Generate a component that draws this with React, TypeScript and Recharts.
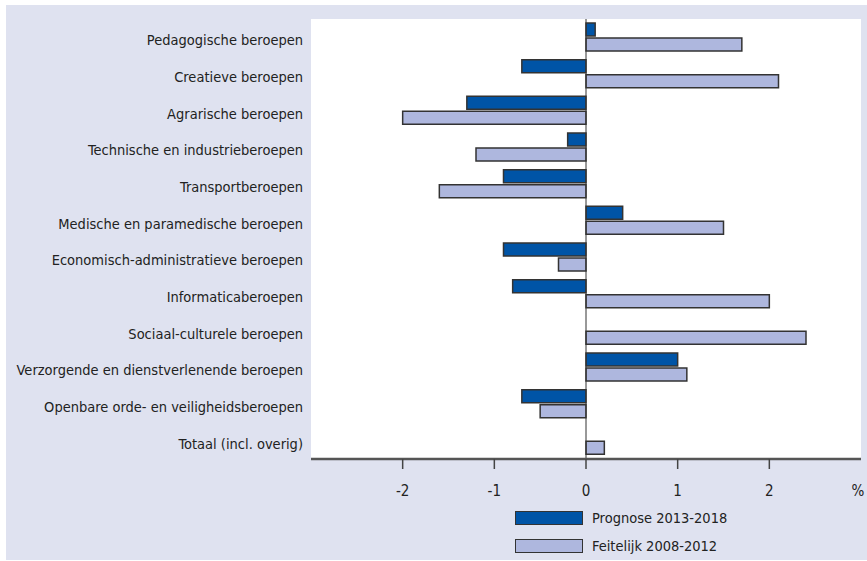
import React from "react";
import {
  BarChart,
  Bar,
  XAxis,
  YAxis,
  CartesianGrid,
  ReferenceLine,
  Legend,
} from "recharts";

const categories = [
  "Pedagogische beroepen",
  "Creatieve beroepen",
  "Agrarische beroepen",
  "Technische en industrieberoepen",
  "Transportberoepen",
  "Medische en paramedische beroepen",
  "Economisch-administratieve beroepen",
  "Informaticaberoepen",
  "Sociaal-culturele beroepen",
  "Verzorgende en dienstverlenende beroepen",
  "Openbare orde- en veiligheidsberoepen",
  "Totaal (incl. overig)",
];

const prognose = [0.1, -0.7, -1.3, -0.2, -0.9, 0.4, -0.9, -0.8, 0, 1.0, -0.7, 0];
const feitelijk = [1.7, 2.1, -2.0, -1.2, -1.6, 1.5, -0.3, 2.0, 2.4, 1.1, -0.5, 0.2];

const xTicks = [-2, -1, 0, 1, 2, 3];

const seriesNames = ["Prognose 2013-2018", "Feitelijk 2008-2012"];
const DARK = "#0054a6";
const LIGHT = "#aeb7de";
const BG = "#dfe2f0";
const FONT = "'Liberation Sans Narrow', 'DejaVu Sans Condensed', sans-serif";

const data = categories.map((name, i) => ({
  name,
  prognose: prognose[i],
  feitelijk: feitelijk[i],
}));

const XTick = ({ x, y, payload }: any) => {
  const isPct = payload.value === 3;
  return (
    <g>
      {!isPct && <line x1={x} x2={x} y1={y - 8} y2={y + 2} stroke="#444" strokeWidth={1.5} />}
      <text
        x={isPct ? x - 3 : x}
        y={y + 29}
        textAnchor="middle"
        fontSize={15}
        fontFamily={FONT}
        fill="#222"
      >
        {isPct ? "%" : payload.value}
      </text>
    </g>
  );
};

const LegendBox = () => (
  <div style={{ fontFamily: FONT, fontSize: 14.5, color: "#222" }}>
    {seriesNames.map((s, i) => (
      <div key={s} style={{ display: "flex", alignItems: "center", height: 28 }}>
        <div
          style={{
            width: 66,
            height: 12,
            background: i === 0 ? DARK : LIGHT,
            border: "1.5px solid #333",
            marginRight: 9,
          }}
        />
        <span>{s}</span>
      </div>
    ))}
  </div>
);

export default function App() {
  return (
    <div style={{ position: "absolute", left: 0, top: 0, width: 867, height: 561, background: "#fff" }}>
      <div style={{ position: "absolute", left: 6, top: 5, width: 861, height: 555, background: BG }} />
      <div style={{ position: "absolute", left: 0, top: 0 }}>
        <BarChart
          width={867}
          height={561}
          data={data}
          layout="vertical"
          margin={{ top: 19, right: 6, bottom: 72, left: 0 }}
          barSize={13}
          barGap={2}
        >
          <CartesianGrid fill="#ffffff" stroke="none" horizontal={false} vertical={false} />
          <XAxis
            type="number"
            domain={[-3, 3]}
            ticks={xTicks}
            allowDataOverflow
            height={30}
            axisLine={{ stroke: "#555", strokeWidth: 2.5 }}
            tickLine={false}
            tick={<XTick />}
            interval={0}
          />
          <YAxis
            type="category"
            dataKey="name"
            width={311}
            axisLine={false}
            tickLine={false}
            interval={0}
            tick={{ fontSize: 14.5, fontFamily: FONT, fill: "#222", dy: 3 }}
          />
          <ReferenceLine x={0} stroke="#333" strokeWidth={1} />
          <Bar dataKey="prognose" name={seriesNames[0]} fill={DARK} stroke="#333" strokeWidth={1.5} isAnimationActive={false} />
          <Bar dataKey="feitelijk" name={seriesNames[1]} fill={LIGHT} stroke="#333" strokeWidth={1.5} isAnimationActive={false} />
          <Legend
            layout="vertical"
            align="center"
            verticalAlign="middle"
            content={<LegendBox />}
            wrapperStyle={{ left: 515, top: 504, width: 250 }}
          />
        </BarChart>
      </div>
    </div>
  );
}
